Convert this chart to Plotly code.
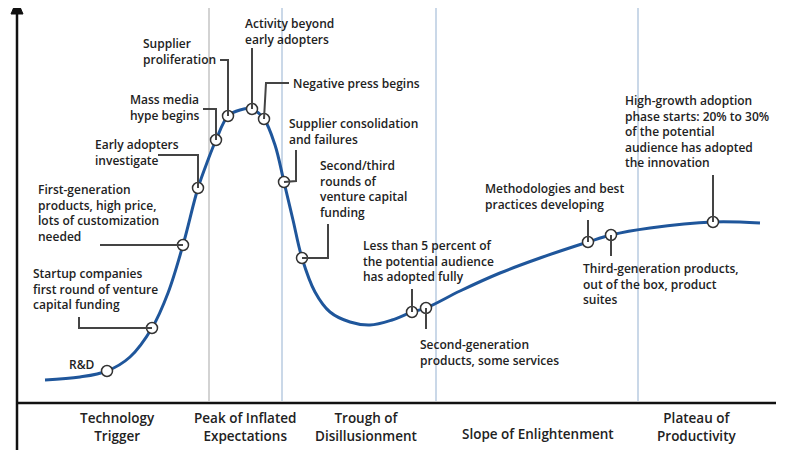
import plotly.graph_objects as go

# hype curve (pixel-like coordinates, y down)
curve_x = [45, 80, 107, 130, 152, 168, 183, 198, 208, 216, 228, 240, 252, 264, 275, 284, 293, 302, 315, 330,
           350, 370, 392, 412, 426, 460, 500, 540, 588, 611, 650, 713, 760]
curve_y = [380, 377, 371, 357, 328, 293, 245, 188, 160, 140, 116, 110, 109, 119, 145, 182, 220, 258, 292, 312,
           322, 325, 320, 312, 308, 291, 273, 258, 242, 235, 228, 222, 223]

# milestone markers
mark_x = [107, 152, 183, 198, 216, 228, 252, 264, 284, 302, 412, 426, 588, 611, 713]
mark_y = [371, 328, 245, 188, 140, 116, 109, 119, 182, 258, 312, 308, 242, 235, 222]

# milestone texts: (left x, centre y, text)
labels = [
    (67, 364, "R&D"),
    (31, 289, "Startup companies<br>first round of venture<br>capital funding"),
    (36, 213, "First-generation<br>products, high price,<br>lots of customization<br>needed"),
    (93, 152, "Early adopters<br>investigate"),
    (128, 107, "Mass media<br>hype begins"),
    (141, 51, "Supplier<br>proliferation"),
    (243, 31, "Activity beyond<br>early adopters"),
    (291, 83, "Negative press begins"),
    (287, 131, "Supplier consolidation<br>and failures"),
    (318, 189, "Second/third<br>rounds of<br>venture capital<br>funding"),
    (361, 261, "Less than 5 percent of<br>the potential audience<br>has adopted fully"),
    (418, 352, "Second-generation<br>products, some services"),
    (483, 196, "Methodologies and best<br>practices developing"),
    (581, 284, "Third-generation products,<br>out of the box, product<br>suites"),
    (623, 131, "High-growth adoption<br>phase starts: 20% to 30%<br>of the potential<br>audience has adopted<br>the innovation"),
]

# leader lines from text to marker
leaders = [
    [(79, 317), (79, 328), (152, 328)],
    [(100, 245), (183, 245)],
    [(158, 155), (198, 155), (198, 188)],
    [(203, 109), (216, 109), (216, 140)],
    [(220, 60), (228, 60), (228, 116)],
    [(252, 48), (252, 109)],
    [(289, 83), (266, 83), (264, 119)],
    [(296, 150), (296, 181), (284, 182)],
    [(328, 224), (328, 258), (302, 258)],
    [(412, 289), (412, 312)],
    [(426, 308), (426, 329)],
    [(588, 220), (588, 242)],
    [(611, 235), (611, 256)],
    [(713, 175), (713, 222)],
]

top_x = [168, 245, 360, 512, 708]
top_text = ["Rise", "Peak", "the Trough", "the Slope", "the Plateau"]

phase_x = [117, 245, 366, 538, 696]
phase_y = [427, 427, 427, 434, 427]
phase_text = ["Technology<br>Trigger", "Peak of Inflated<br>Expectations", "Trough of<br>Disillusionment",
              "Slope of Enlightenment", "Plateau of<br>Productivity"]

dividers = [209, 282, 436, 638]

font = dict(family="Open Sans", color="#222", size=12, weight=600)

fig = go.Figure()
fig.add_trace(go.Scatter(x=curve_x, y=curve_y, mode="lines", line=dict(color="#1f569b", width=3, shape="spline"),
                         hoverinfo="skip"))
fig.add_trace(go.Scatter(x=mark_x, y=mark_y, mode="markers",
                         marker=dict(size=11, color="white", line=dict(color="#333", width=1.5)),
                         hoverinfo="skip"))

shapes = []
for i, dx in enumerate(dividers):
    shapes.append(dict(type="line", x0=dx, x1=dx, y0=0, y1=401, layer="below",
                       line=dict(color="#c4c4c4" if i == 0 else "#b9cbe0", width=1.5)))
for pts in leaders:
    path = "M " + " L ".join(f"{x},{y}" for x, y in pts)
    shapes.append(dict(type="path", path=path, line=dict(color="#444", width=2)))
# axes
shapes.append(dict(type="line", x0=17, x1=17, y0=8, y1=458, line=dict(color="#111", width=2.5)))
shapes.append(dict(type="path", path="M 11,14 L 17,0 L 23,14 Z", fillcolor="#111", line=dict(color="#111", width=1)))
shapes.append(dict(type="line", x0=17, x1=776, y0=403, y1=403, line=dict(color="#111", width=2.5)))

ann = []
for lx, ly, t in labels:
    ann.append(dict(x=lx, y=ly, text=t, xanchor="left", yanchor="middle", align="left", showarrow=False, font=font))
for tx, t in zip(top_x, top_text):
    ann.append(dict(x=tx, y=3, text=t, xanchor="center", yanchor="middle", showarrow=False,
                    font=dict(family="Open Sans", color="#222", size=14, weight=600)))
for px_, py_, t in zip(phase_x, phase_y, phase_text):
    ann.append(dict(x=px_, y=py_, text=t, xanchor="center", yanchor="middle", showarrow=False,
                    font=dict(family="Open Sans", color="#222", size=13.5, weight=600)))

# page body has a small offset, so shift the ranges to line up with the window
fig.update_layout(
    width=800, height=450, margin=dict(l=0, r=0, t=0, b=0),
    paper_bgcolor="white", plot_bgcolor="white", showlegend=False,
    xaxis=dict(range=[8, 808], visible=False, fixedrange=True),
    yaxis=dict(range=[458, 8], visible=False, fixedrange=True),
    shapes=shapes, annotations=ann,
)

fig.write_html("out.html")
